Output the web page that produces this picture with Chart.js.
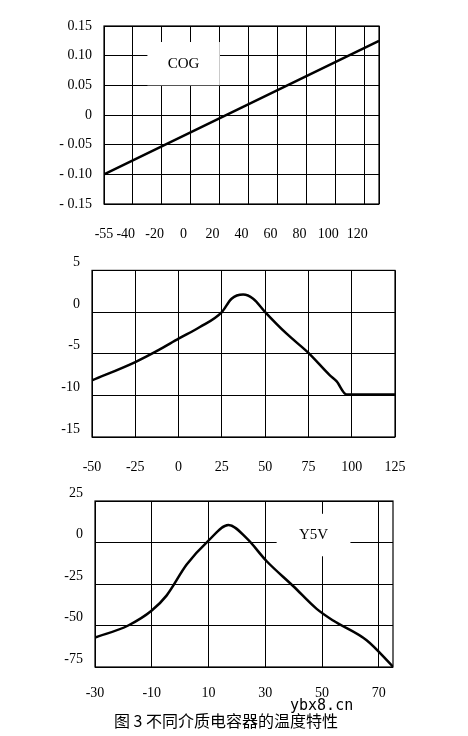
<!DOCTYPE html>
<html><head><meta charset="utf-8">
<script src="https://cdn.jsdelivr.net/npm/chart.js@4"></script>
<style>
body{margin:0;background:#fff;width:468px;height:736px;position:relative;overflow:hidden}
canvas{position:absolute;left:0}
#cap{position:absolute;top:708px;left:0;width:452px;text-align:center;font:16px "Noto Sans CJK SC";color:#000}
#wm{position:absolute;top:699px;left:290px;font:15px "DejaVu Sans Mono";color:#000;line-height:13px}
</style></head><body>
<canvas id="c1" style="top:0"></canvas>
<canvas id="c2" style="top:250px"></canvas>
<canvas id="c3" style="top:480px"></canvas>
<div id="wm">ybx8.cn</div>
<div id="cap">图 3 不同介质电容器的温度特性</div>
<script>
// C0G
const cogTemp = [-55, 135];
const cogVal = [-0.10, 0.125];
const cogYTicks = [-0.15, -0.10, -0.05, 0, 0.05, 0.10, 0.15];
const cogXGrid = [-55, -35, -15, 5, 25, 45, 65, 85, 105, 125, 135];
const cogXLabels = [-55, -40, -20, 0, 20, 40, 60, 80, 100, 120];

// X7R
const x7rTemp = [-50, -25, -11.9, 0, 12.3, 25, 30.6, 37.3, 43.1, 50, 62.4, 75, 87.4, 91.2, 97, 125];
const x7rVal = [-8.2, -6.0, -4.6, -3.2, -1.8, 0, 1.6, 2.1, 1.6, 0, -2.6, -4.9, -7.6, -8.3, -9.9, -9.9];
const x7rYTicks = [-15, -10, -5, 0, 5];
const x7rXTicks = [-50, -25, 0, 25, 50, 75, 100, 125];

// Y5V
const y5vTemp = [-30, -18.3, -10, -4.8, 2.3, 9.9, 17, 23.4, 30.5, 39.8, 48.1, 53.9, 65.7, 75];
const y5vVal = [-57.3, -50, -41, -32, -13.3, 1, 10.5, 2.6, -11.3, -26.2, -40, -47, -58.9, -74.8];
const y5vYTicks = [-75, -50, -25, 0, 25];
const y5vXTicks = [-30, -10, 10, 30, 50, 70];

const serif = {family: "Liberation Serif", size: 14};

const frame = {
  id: "frame",
  beforeDatasetsDraw(chart) {
    const ctx = chart.ctx, o = chart.options.plugins.frame;
    if (o && o.box) {
      const x = chart.scales.x, y = chart.scales.y;
      const x0 = x.getPixelForValue(o.box[0]), x1 = x.getPixelForValue(o.box[1]);
      const y0 = y.getPixelForValue(o.box[3]), y1 = y.getPixelForValue(o.box[2]);
      ctx.save();
      ctx.fillStyle = "#fff";
      ctx.fillRect(x0, y0, x1 - x0, y1 - y0);
      ctx.fillStyle = "#000";
      ctx.font = "15px 'Liberation Serif'";
      ctx.textAlign = "center"; ctx.textBaseline = "middle";
      ctx.fillText(o.text, (x0 + x1) / 2, (y0 + y1) / 2);
      ctx.restore();
    }
  },
  afterDraw(chart) {
    const a = chart.chartArea, ctx = chart.ctx;
    ctx.save();
    ctx.strokeStyle = "#000"; ctx.lineWidth = 1.2;
    ctx.strokeRect(a.left, a.top, a.right - a.left, a.bottom - a.top);
    ctx.restore();
  }
};

function make(id, h, pad, yw, xh, xpad, temps, vals, yTicks, yMinMax, yFmt, xMinMax, xTicks, xGrid, box, lblOff) {
  const el = document.getElementById(id);
  el.width = 468; el.height = h;
  el.style.width = "468px"; el.style.height = h + "px";
  const scales = {
    x: {
      type: "linear", min: xMinMax[0], max: xMinMax[1],
      afterBuildTicks: s => { s.ticks = xTicks.map(v => ({value: v})); },
      afterFit: s => { s.height = xh; },
      grid: {display: !xGrid, color: "#000", lineWidth: 1, drawTicks: false},
      border: {display: false},
      ticks: {color: "#000", font: serif, padding: xpad, maxRotation: 0, autoSkip: false}
    },
    y: {
      min: yMinMax[0], max: yMinMax[1],
      afterBuildTicks: s => { s.ticks = yTicks.map(v => ({value: v})); },
      afterFit: s => { s.width = yw; },
      grid: {color: "#000", lineWidth: 1, drawTicks: false},
      border: {display: false},
      ticks: {color: "#000", font: serif, padding: 12, labelOffset: lblOff, callback: yFmt}
    }
  };
  if (xGrid) {
    scales.xg = {
      type: "linear", position: "bottom", min: xMinMax[0], max: xMinMax[1],
      afterBuildTicks: s => { s.ticks = xGrid.map(v => ({value: v})); },
      afterFit: s => { s.height = 0; },
      grid: {color: "#000", lineWidth: 1, drawTicks: false},
      border: {display: false},
      ticks: {display: false}
    };
  }
  new Chart(el, {
    type: "line",
    data: {datasets: [{
      data: temps.map((t, i) => ({x: t, y: vals[i]})),
      borderColor: "#000", borderWidth: 2.5, pointRadius: 0, cubicInterpolationMode: "monotone"
    }]},
    options: {
      responsive: false, animation: false,
      layout: {padding: pad},
      plugins: {legend: {display: false}, tooltip: {enabled: false}, frame: {box: box ? box.r : null, text: box ? box.t : ""}},
      scales
    },
    plugins: [frame]
  });
}

make("c1", 250, {top: 26, right: 89, left: 0, bottom: 0}, 104, 46, 22,
  cogTemp, cogVal, cogYTicks, [-0.15, 0.15],
  v => v === 0 ? "0" : (v < 0 ? "- " + Math.abs(v).toFixed(2) : v.toFixed(2)),
  [-55, 135], cogXLabels, cogXGrid, {r: [-25, 25, 0.05, 0.123], t: "COG"}, 0);

make("c2", 230, {top: 18, right: 73, left: 0, bottom: 0}, 92, 43, 22,
  x7rTemp, x7rVal, x7rYTicks, [-15, 5], v => String(v),
  [-50, 125], x7rXTicks, null, null, -8);

make("c3", 256, {top: 21, right: 75, left: 0, bottom: 0}, 95, 69, 18,
  y5vTemp, y5vVal, y5vYTicks, [-75, 25], v => String(v),
  [-30, 75], y5vXTicks, null, {r: [34, 60, -8.3, 17.3], t: "Y5V"}, -8);
</script>
</body></html>
